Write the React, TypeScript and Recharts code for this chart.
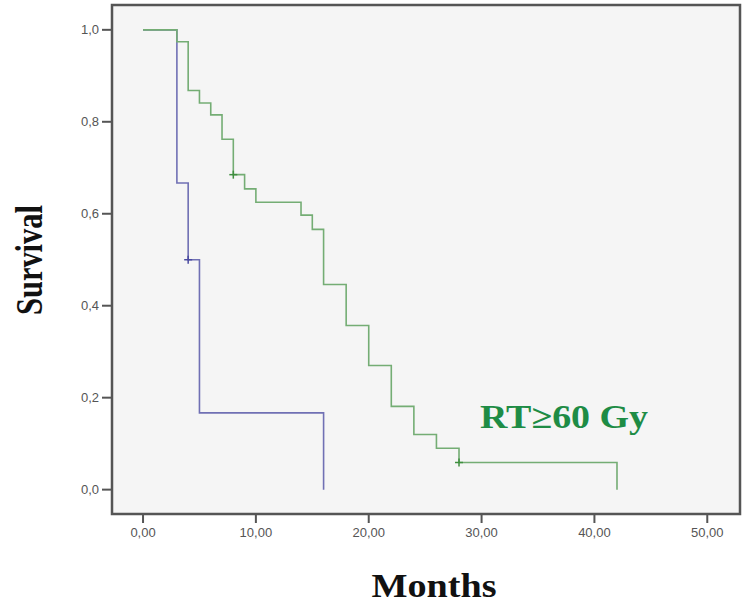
import React from "react";
import {
  ComposedChart,
  Line,
  Scatter,
  XAxis,
  YAxis,
  ReferenceArea,
  CartesianGrid,
} from "recharts";

// Kaplan-Meier steps
const blueMonths = [0, 3, 4, 5, 16];
const blueSurvival = [1.0, 0.667, 0.5, 0.167, 0.0];

const greenMonths = [0, 3, 4, 5, 6, 7, 8, 9, 10, 14, 15, 16, 18, 20, 22, 24, 26, 28, 42];
const greenSurvival = [
  1.0, 0.974, 0.868, 0.841, 0.815, 0.762, 0.685, 0.654, 0.625, 0.597, 0.566,
  0.446, 0.357, 0.27, 0.181, 0.12, 0.09, 0.059, 0.0,
];

// censored observations
const blueCensorMonths = [4];
const blueCensorSurvival = [0.5];
const greenCensorMonths = [8, 28];
const greenCensorSurvival = [0.685, 0.059];

const xTicks = [0, 10, 20, 30, 40, 50];
const xTickLabels = ["0,00", "10,00", "20,00", "30,00", "40,00", "50,00"];
const yTicks = [0, 0.2, 0.4, 0.6, 0.8, 1.0];
const yTickLabels = ["0,0", "0,2", "0,4", "0,6", "0,8", "1,0"];

const X_DOMAIN: [number, number] = [-2.75, 52.9];
const Y_DOMAIN: [number, number] = [-0.053, 1.054];

const blueData = blueMonths.map((t, i) => ({ t, s: blueSurvival[i] }));
const greenData = greenMonths.map((t, i) => ({ t, s: greenSurvival[i] }));
const blueCensor = blueCensorMonths.map((t, i) => ({ t, s: blueCensorSurvival[i] }));
const greenCensor = greenCensorMonths.map((t, i) => ({ t, s: greenCensorSurvival[i] }));

const BLUE = "#7070b4";
const GREEN = "#74ad74";

const plus = (color: string) => (props: any) => {
  const { cx, cy } = props;
  return (
    <g>
      <line x1={cx - 4} x2={cx + 4} y1={cy} y2={cy} stroke={color} strokeWidth={1.5} />
      <line x1={cx} x2={cx} y1={cy - 4} y2={cy + 4} stroke={color} strokeWidth={1.5} />
    </g>
  );
};

const tickStyle = { fontFamily: "Arial, 'Liberation Sans', sans-serif", fontSize: 13, fill: "#555" };

export default function App() {
  return (
    <div style={{ position: "absolute", left: 0, top: 0, background: "#fff" }}>
      <ComposedChart
        width={749}
        height={607}
        margin={{ top: 5, right: 9, bottom: 33, left: 0 }}
      >
        <CartesianGrid horizontal={false} vertical={false} fill="#f5f5f5" />
        <XAxis
          dataKey="t"
          type="number"
          domain={X_DOMAIN}
          ticks={xTicks}
          tickFormatter={(v: number) => xTickLabels[xTicks.indexOf(v)] ?? ""}
          allowDataOverflow
          axisLine={false}
          tickLine={{ stroke: "#555", strokeWidth: 2 }}
          tickSize={9}
          tickMargin={5}
          tick={tickStyle}
          height={60}
          interval={0}
        />
        <YAxis
          type="number"
          domain={Y_DOMAIN}
          ticks={yTicks}
          tickFormatter={(v: number) => yTickLabels[yTicks.indexOf(v)] ?? ""}
          allowDataOverflow
          axisLine={false}
          tickLine={{ stroke: "#555", strokeWidth: 2 }}
          tickSize={10}
          tickMargin={3}
          tick={tickStyle}
          width={112}
          interval={0}
        />
        <ReferenceArea
          x1={X_DOMAIN[0]}
          x2={X_DOMAIN[1]}
          y1={Y_DOMAIN[0]}
          y2={Y_DOMAIN[1]}
          fill="none"
          fillOpacity={0}
          stroke="#555"
          strokeWidth={2.5}
          ifOverflow="visible"
        />
        <Line
          data={blueData}
          dataKey="s"
          type="stepAfter"
          stroke={BLUE}
          strokeWidth={1.6}
          dot={false}
          activeDot={false}
          isAnimationActive={false}
        />
        <Line
          data={greenData}
          dataKey="s"
          type="stepAfter"
          stroke={GREEN}
          strokeWidth={1.6}
          dot={false}
          activeDot={false}
          isAnimationActive={false}
        />
        <Scatter
          data={blueCensor}
          dataKey="s"
          shape={plus("#4a4aa0")}
          isAnimationActive={false}
        />
        <Scatter
          data={greenCensor}
          dataKey="s"
          shape={plus("#3f8f3f")}
          isAnimationActive={false}
        />
        <text
          x={42}
          y={260}
          transform="rotate(-90, 42, 260)"
          textAnchor="middle"
          fontFamily="'Liberation Serif', 'Times New Roman', serif"
          fontWeight="bold"
          fontSize={38}
          textLength={110}
          lengthAdjust="spacingAndGlyphs"
          fill="#111"
        >
          Survival
        </text>
        <text
          x={434}
          y={597}
          textAnchor="middle"
          fontFamily="'Liberation Serif', 'Times New Roman', serif"
          fontWeight="bold"
          fontSize={33}
          textLength={125}
          lengthAdjust="spacingAndGlyphs"
          fill="#111"
        >
          Months
        </text>
        <text
          x={564}
          y={428}
          textAnchor="middle"
          fontFamily="'Liberation Serif', 'Times New Roman', serif"
          fontWeight="bold"
          fontSize={33}
          textLength={168}
          lengthAdjust="spacingAndGlyphs"
          fill="#1e8c45"
        >
          RT≥60 Gy
        </text>
      </ComposedChart>
    </div>
  );
}
